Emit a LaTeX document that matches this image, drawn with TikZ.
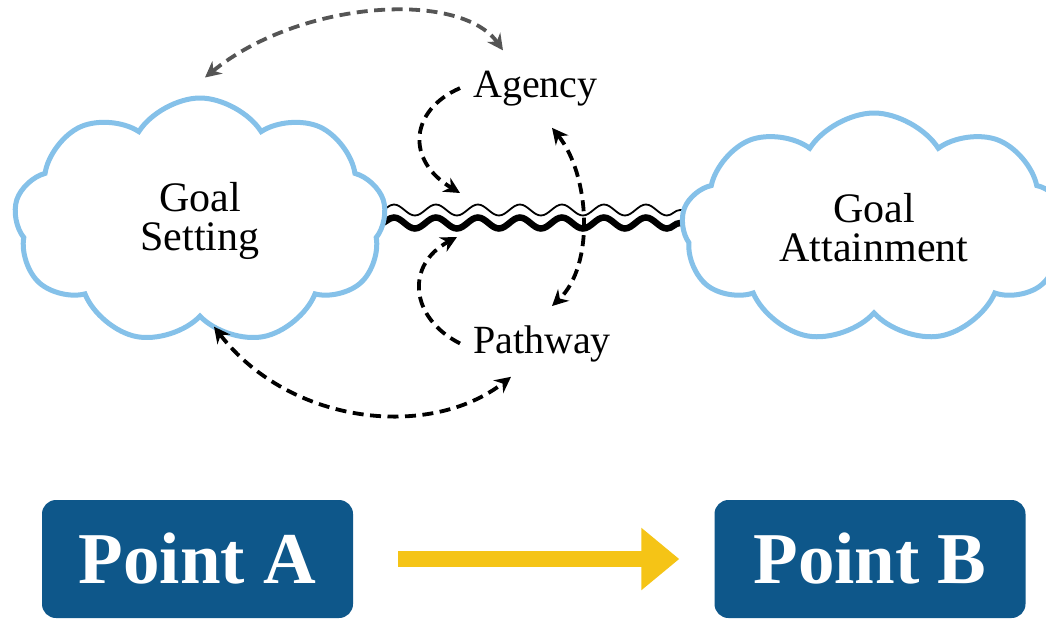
\documentclass[tikz,border=0pt]{standalone}
\usepackage{fontspec}
\setmainfont{Liberation Serif}
\usepackage{xcolor}
\usetikzlibrary{arrows.meta,calc,positioning,shapes.symbols,decorations.pathmorphing,backgrounds}
\definecolor{cloudblue}{RGB}{133,193,233}
\definecolor{boxblue}{RGB}{14,87,138}
\definecolor{arrowyellow}{RGB}{245,196,22}
\definecolor{arcgrey}{RGB}{85,85,85}

\begin{document}
\begin{tikzpicture}[
    x=1pt, y=-1pt,
    >={Stealth[length=16pt,width=16pt]},
    goalcloud/.style={cloud, cloud puffs=9, cloud puff arc=115, cloud ignores aspect,
        draw=cloudblue, line width=5pt, fill=white, align=center, inner sep=0,
        font=\fontsize{42}{39}\selectfont},
    factor/.style={inner sep=4pt, font=\fontsize{40}{40}\selectfont},
    dasharrow/.style={line width=3.8pt, dash pattern=on 11pt off 6.5pt},
    wave/.style={decorate, decoration={snake, segment length=42pt, amplitude=5.5pt}},
    pointbox/.style={rectangle, rounded corners=14pt, fill=boxblue, text=white,
        minimum width=311pt, minimum height=118pt,
        font=\fontsize{73}{73}\selectfont\bfseries}
]
\useasboundingbox (0,0) rectangle (1046,621);
\begin{scope}[on background layer]
\fill[white] (0,0) rectangle (1046,621);
\end{scope}

\node[goalcloud, minimum width=372pt, minimum height=246pt] (gs) at (200,221) {Goal\\Setting};
\node[goalcloud, minimum width=385pt, minimum height=230pt] (ga) at (874,228) {Goal\\Attainment};
\node[factor, anchor=base west] (ag) at (469,97) {Agency};
\node[factor, anchor=base west] (pw) at (469,353) {Pathway};

\coordinate (wl) at ([xshift=-6pt]gs.east);
\coordinate (wr) at ([xshift=6pt]wl -| ga.west);
\coordinate (agend) at (460,193);
\coordinate (pwend) at (457,237);

\begin{scope}[on background layer]
\draw[wave, line width=1.8pt] ([yshift=11pt]wl) -- ([yshift=11pt]wr);
\draw[wave, line width=6.5pt] ([yshift=-2pt]wl) -- ([yshift=-2pt]wr);
\end{scope}

\draw[dasharrow, arcgrey, <->] ([xshift=5pt,yshift=18pt]gs.north) .. controls (300,0) and (460,-10) .. ([xshift=34pt,yshift=16pt]ag.north west);
\draw[dasharrow, <->] ([xshift=14pt,yshift=-7pt]gs.south) .. controls (290,425) and (430,440) .. ([xshift=42pt,yshift=-11pt]pw.south west);
\draw[dasharrow, ->] ([xshift=-9pt]ag.west) .. controls (410,110) and (405,160) .. (agend);
\draw[dasharrow, ->] ([xshift=-9pt]pw.west) .. controls (410,318) and (405,265) .. (pwend);
\draw[dasharrow, <->] ([xshift=83pt,yshift=-18pt]ag.south west) .. controls (590,175) and (595,265) .. ([xshift=83pt,yshift=15pt]pw.north west);

\node[pointbox] (pa) at (197.5,559) {Point A};
\node[pointbox] (pb) at (870,559) {Point B};
\draw[line width=16pt, arrowyellow, -{Triangle[length=38pt,width=60pt]}] ([xshift=45pt]pa.east) -- ([xshift=-35pt]pb.west);

\end{tikzpicture}
\end{document}
